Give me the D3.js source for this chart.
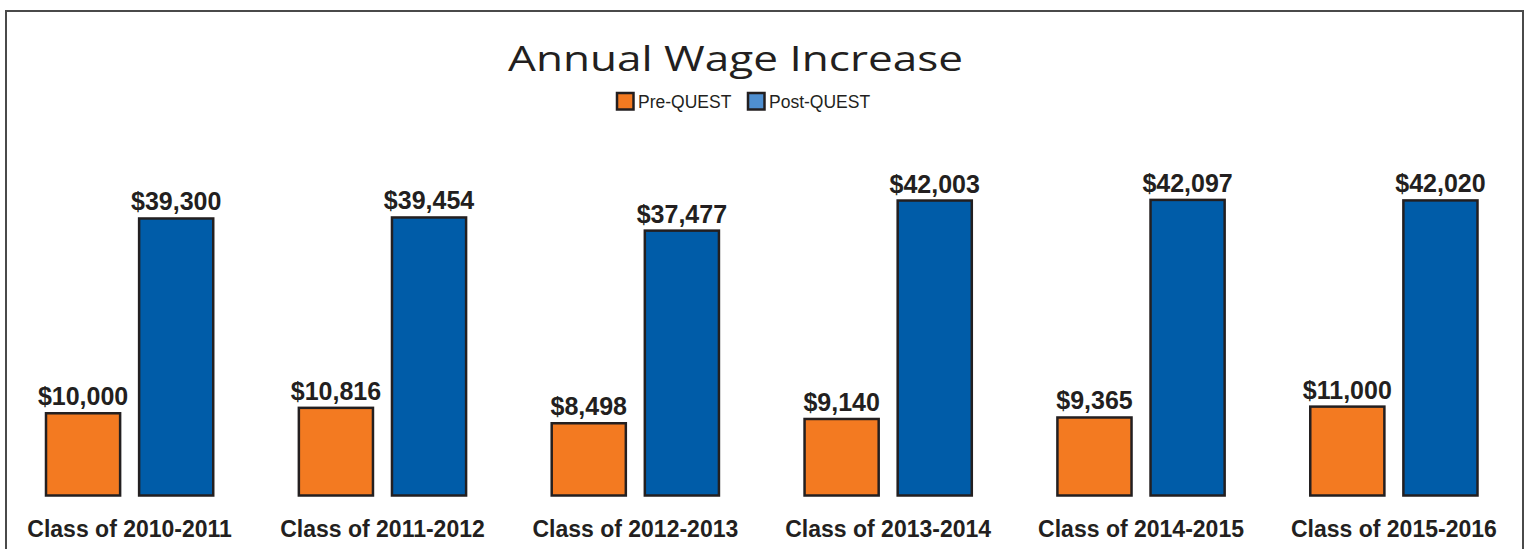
<!DOCTYPE html>
<html>
<head>
<meta charset="utf-8">
<script src="https://cdn.jsdelivr.net/npm/d3@7"></script>
<style>
  html, body { margin: 0; padding: 0; background: #fff; }
  svg { display: block; }
</style>
</head>
<body>
<svg id="chart" width="1528" height="549"></svg>
<script>
// data
var categories = ["Class of 2010-2011", "Class of 2011-2012", "Class of 2012-2013",
                  "Class of 2013-2014", "Class of 2014-2015", "Class of 2015-2016"];
var seriesNames = ["Pre-QUEST", "Post-QUEST"];
var preQuest = [10000, 10816, 8498, 9140, 9365, 11000];
var postQuest = [39300, 39454, 37477, 42003, 42097, 42020];

var ink = "#231f20";
var barColors = ["#f37a21", "#005ca8"];
var legendColors = ["#f37a21", "#4f8fd0"];

var svg = d3.select("#chart");

// frame
svg.append("rect")
  .attr("x", 6).attr("y", 11)
  .attr("width", 1517).attr("height", 600)
  .attr("fill", "none")
  .attr("stroke", "#4a4a4a")
  .attr("stroke-width", 2);

var rows = categories.map(function(c, i) {
  return { cat: c, values: [preQuest[i], postQuest[i]] };
});

var x0 = d3.scaleBand().domain(categories).range([46, 1477.5]).paddingInner(0.3386).paddingOuter(0);
var x1 = d3.scaleBand().domain(seriesNames).range([0, x0.bandwidth()]).paddingInner(0.204);
// the bars in the original are not drawn from zero, fit of the picture
var y = d3.scaleLinear().domain([-2370, 45000]).range([495.5, 180.6]);

var fmt = d3.format("$,");

var groups = svg.append("g").selectAll("g")
  .data(rows)
  .enter().append("g")
    .attr("transform", function(d) { return "translate(" + x0(d.cat) + ",0)"; });

groups.selectAll("rect")
  .data(function(d) { return d.values.map(function(v, i) { return { name: seriesNames[i], value: v, i: i }; }); })
  .enter().append("rect")
    .attr("x", function(d) { return x1(d.name); })
    .attr("y", function(d) { return y(d.value); })
    .attr("width", x1.bandwidth())
    .attr("height", function(d) { return y.range()[0] - y(d.value); })
    .attr("fill", function(d) { return barColors[d.i]; })
    .attr("stroke", ink)
    .attr("stroke-width", 2.5);

groups.selectAll(".val")
  .data(function(d) { return d.values.map(function(v, i) { return { name: seriesNames[i], value: v }; }); })
  .enter().append("text")
    .attr("class", "val")
    .attr("x", function(d) { return x1(d.name) + x1.bandwidth() / 2; })
    .attr("y", function(d) { return y(d.value) - 8; })
    .attr("text-anchor", "middle")
    .attr("font-family", "'Liberation Sans', Arial, sans-serif")
    .attr("font-weight", "bold")
    .attr("font-size", 25)
    .attr("fill", ink)
    .text(function(d) { return fmt(d.value); });

groups.append("text")
  .attr("x", x0.bandwidth() / 2)
  .attr("y", 536.5)
  .attr("text-anchor", "middle")
  .attr("font-family", "'Liberation Sans', Arial, sans-serif")
  .attr("font-weight", "bold")
  .attr("font-size", 23)
  .attr("fill", ink)
  .text(function(d) { return d.cat; });

// title
svg.append("text")
  .attr("x", 735.5)
  .attr("y", 70.5)
  .attr("text-anchor", "middle")
  .attr("font-family", "'Open Sans', 'DejaVu Sans', sans-serif")
  .attr("font-weight", 400)
  .attr("font-size", 35)
  .attr("textLength", 455)
  .attr("lengthAdjust", "spacingAndGlyphs")
  .attr("fill", ink)
  .text("Annual Wage Increase");

// legend
var legendX = [617, 748];
var legend = svg.append("g").selectAll("g")
  .data(seriesNames)
  .enter().append("g")
    .attr("transform", function(d, i) { return "translate(" + legendX[i] + ",93)"; });

legend.append("rect")
  .attr("width", 16.5).attr("height", 16.5)
  .attr("fill", function(d, i) { return legendColors[i]; })
  .attr("stroke", ink)
  .attr("stroke-width", 2.5);

legend.append("text")
  .attr("x", 21)
  .attr("y", 14.5)
  .attr("font-family", "'Liberation Sans', Arial, sans-serif")
  .attr("font-size", 17.5)
  .attr("fill", ink)
  .text(function(d) { return d; });
</script>
</body>
</html>
